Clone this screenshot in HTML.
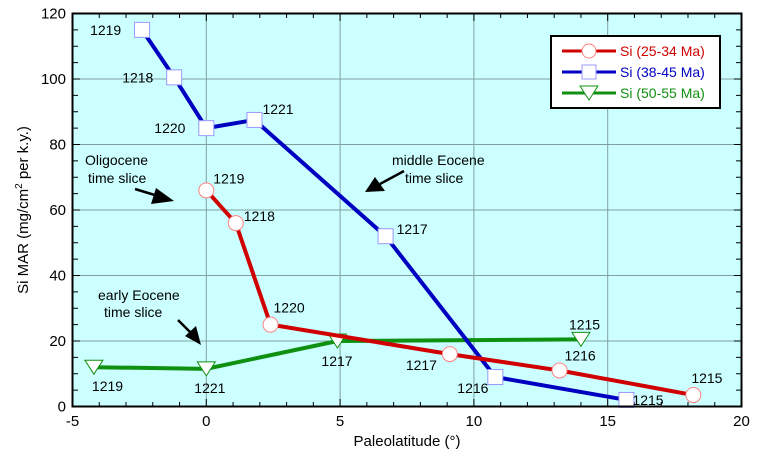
<!DOCTYPE html>
<html><head><meta charset="utf-8"><style>
body{margin:0;background:#fff;}
svg{font-family:"Liberation Sans",Arial,sans-serif;}
</style></head><body>
<svg id="chart" width="767" height="453">
<rect x="72.5" y="13.5" width="669" height="393" fill="#ccffff"/>
<g id="grid"></g>
<g id="ticks"></g>
<g id="series"></g>
<rect x="72.5" y="13.5" width="669" height="393" fill="none" stroke="#000" stroke-width="2"/>
<text x="407" y="446" font-size="15" text-anchor="middle">Paleolatitude (°)</text>
<text transform="translate(28,210) rotate(-90)" font-size="15" text-anchor="middle">Si MAR (mg/cm<tspan font-size="10" dy="-6">2</tspan><tspan dy="6"> per k.y.)</tspan></text>
<g font-size="14">
<text x="85" y="165">Oligocene</text>
<text x="88" y="183">time slice</text>
<line x1="135" y1="189" x2="158" y2="196" stroke="#000" stroke-width="2.5"/>
<polygon points="174,201 156,188 151,204" fill="#000"/>
<text x="392" y="165">middle Eocene</text>
<text x="405" y="183">time slice</text>
<line x1="404" y1="171" x2="380" y2="184" stroke="#000" stroke-width="2.5"/>
<polygon points="365,192 375,177 385,191" fill="#000"/>
<text x="98" y="300">early Eocene</text>
<text x="104" y="317">time slice</text>
<line x1="178" y1="320" x2="192" y2="334" stroke="#000" stroke-width="2.5"/>
<polygon points="201,345 185,336 196,326" fill="#000"/>
</g>
<g>
<rect x="551" y="36" width="169" height="72" fill="#fff" stroke="#000" stroke-width="2"/>
<line x1="562" y1="51" x2="616" y2="51" stroke="#d00000" stroke-width="3"/>
<circle cx="589" cy="51" r="7" fill="#fff" stroke="#ff8080"/>
<text x="620" y="56" font-size="14" fill="#d00000">Si (25-34 Ma)</text>
<line x1="562" y1="72" x2="616" y2="72" stroke="#0000c0" stroke-width="3"/>
<rect x="582" y="65" width="14" height="14" fill="#fff" stroke="#9999ff"/>
<text x="620" y="77" font-size="14" fill="#0000c0">Si (38-45 Ma)</text>
<line x1="562" y1="93" x2="616" y2="93" stroke="#109010" stroke-width="3"/>
<polygon points="580,86 598,86 589,100" fill="#fff" stroke="#109010"/>
<text x="620" y="98" font-size="14" fill="#109010">Si (50-55 Ma)</text>
</g>
</svg>
<script>
const xTicks=[-5,0,5,10,15,20];
const yTicks=[0,20,40,60,80,100,120];
const redX=[0,1.1,2.4,9.1,13.2,18.2];
const redY=[66,56,25,16,11,3.5];
const redLab=["1219","1218","1220","1217","1216","1215"];
const blueX=[-2.4,-1.2,0,1.8,6.7,10.8,15.7];
const blueY=[115,100.5,85,87.5,52,9,2];
const blueLab=["1219","1218","1220","1221","1217","1216","1215"];
const greenX=[-4.2,0,4.9,14];
const greenY=[12,11.5,20,20.5];
const greenLab=["1219","1221","1217","1215"];
const redOff=[[7,-7],[8,-2],[3,-12],[-44,16],[5,-10],[-2,-12]];
const blueOff=[[-52,5],[-52,5],[-52,5],[8,-6],[11,-2],[-38,16],[6,5]];
const greenOff=[[-2,24],[-12,24],[-16,25],[-12,-10]];
const X=v=>72.5+(v+5)*669/25, Y=v=>406.5-v*393/120;
const NS="http://www.w3.org/2000/svg";
function mk(p,t,a){const e=document.createElementNS(NS,t);for(const k in a)e.setAttribute(k,a[k]);p.appendChild(e);return e;}
const g=document.getElementById('grid'),tk=document.getElementById('ticks'),s=document.getElementById('series');
xTicks.forEach(v=>{if(v>-5&&v<20){const l=mk(g,'line',{x1:X(v),x2:X(v),y1:13.5,y2:406.5,stroke:'#80a0a0','stroke-width':1});}
const t=mk(tk,'text',{x:X(v),y:426,'font-size':15,'text-anchor':'middle'});t.textContent=v;

});
for(let v=-4;v<20;v++){mk(tk,'line',{x1:X(v),x2:X(v),y1:406.5,y2:v%5?402:399,stroke:'#000'});mk(tk,'line',{x1:X(v),x2:X(v),y1:13.5,y2:v%5?18:21,stroke:'#000'});}
yTicks.forEach(v=>{if(v>0&&v<120){const l=mk(g,'line',{x1:72.5,x2:741.5,y1:Y(v),y2:Y(v),stroke:'#80a0a0','stroke-width':1});}
const t=mk(tk,'text',{x:66,y:Y(v)+5,'font-size':15,'text-anchor':'end'});t.textContent=v;

});
for(let v=5;v<120;v+=5){mk(tk,'line',{x1:72.5,x2:v%20?78:80,y1:Y(v),y2:Y(v),stroke:'#000'});mk(tk,'line',{x1:741.5,x2:v%20?736:734,y1:Y(v),y2:Y(v),stroke:'#000'});}
function series(xs,ys,labs,offs,col,mcol,shape,name){
const line=mk(s,'polyline',{points:xs.map((x,i)=>X(x)+','+Y(ys[i])).join(' '),fill:'none',stroke:col,'stroke-width':4});


xs.forEach((x,i)=>{const cx=X(x),cy=Y(ys[i]);let m;
if(shape==='c')m=mk(s,'circle',{cx,cy,r:7.5,fill:'#fff',stroke:mcol});
else if(shape==='s')m=mk(s,'rect',{x:cx-7.5,y:cy-7.5,width:15,height:15,fill:'#fff',stroke:mcol});
else m=mk(s,'polygon',{points:`${cx-9},${cy-7} ${cx+9},${cy-7} ${cx},${cy+7}`,fill:'#fff',stroke:col});


const t=mk(s,'text',{x:cx+offs[i][0],y:cy+offs[i][1],'font-size':14});t.textContent=labs[i];

});}
series(greenX,greenY,greenLab,greenOff,'#109010','#109010','t','green-series');
series(blueX,blueY,blueLab,blueOff,'#0000c0','#9999ff','s','blue-series');
series(redX,redY,redLab,redOff,'#d00000','#ff8080','c','red-series');
</script>
</body></html>
